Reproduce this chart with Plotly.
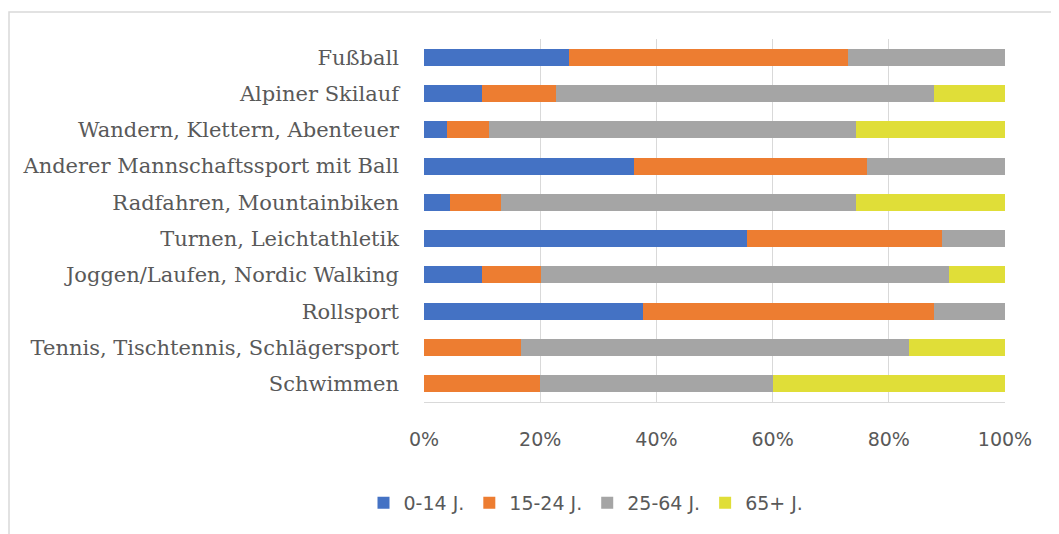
import plotly.graph_objects as go

categories = [
    "Fußball",
    "Alpiner Skilauf",
    "Wandern, Klettern, Abenteuer",
    "Anderer Mannschaftssport mit Ball",
    "Radfahren, Mountainbiken",
    "Turnen, Leichtathletik",
    "Joggen/Laufen, Nordic Walking",
    "Rollsport",
    "Tennis, Tischtennis, Schlägersport",
    "Schwimmen",
]
series_names = ["0-14 J.", "15-24 J.", "25-64 J.", "65+ J."]
age_0_14 = [25.0, 10.0, 3.9, 36.2, 4.5, 55.6, 10.0, 37.7, 0.0, 0.0]
age_15_24 = [47.9, 12.7, 7.3, 40.1, 8.7, 33.5, 10.1, 50.1, 16.7, 20.0]
age_25_64 = [27.1, 65.1, 63.1, 23.7, 61.1, 10.9, 70.2, 12.2, 66.7, 40.0]
age_65_plus = [0.0, 12.2, 25.7, 0.0, 25.7, 0.0, 9.7, 0.0, 16.6, 40.0]
tick_vals = [0, 20, 40, 60, 80, 100]
tick_text = ["0%", "20%", "40%", "60%", "80%", "100%"]

colors = ["#4472C4", "#ED7D31", "#A5A5A5", "#E0DE38"]
series = [age_0_14, age_15_24, age_25_64, age_65_plus]

OFF = 8  # page body margin
W, H = 1059 - OFF, 534 - OFF
pw, ph = 581, 363
L = 424 - OFF
T = 39 - OFF
R = W - L - pw
B = H - T - ph

fig = go.Figure()
for name, vals, c in zip(series_names, series, colors):
    fig.add_trace(go.Bar(
        y=categories, x=vals, name=name, orientation="h",
        marker=dict(color=c, line=dict(width=0)),
    ))

sans = "'DejaVu Sans', sans-serif"
serif = "'DejaVu Serif', serif"

# outer chart border (top and left visible)
fig.add_shape(
    type="rect", xref="paper", yref="paper",
    x0=(1 - L) / pw, x1=(W + 10 - L) / pw,
    y0=(T + ph - (H + 10)) / ph, y1=(T + ph - (12 - OFF)) / ph,
    line=dict(color="#D9D9D9", width=1.5), fillcolor="rgba(0,0,0,0)", layer="below",
)

fig.update_layout(
    width=W, height=H,
    margin=dict(l=L, r=R, t=T, b=B),
    barmode="stack",
    bargap=0.53,
    plot_bgcolor="white",
    paper_bgcolor="white",
    showlegend=True,
    legend=dict(
        orientation="h",
        x=(586 - OFF - L) / pw, xanchor="center",
        y=(T + ph - (503 - OFF)) / ph, yanchor="middle",
        font=dict(family=sans, size=19, color="#595959"),
        itemwidth=30,
        traceorder="normal",
    ),
    xaxis=dict(
        range=[0, 100],
        tickvals=tick_vals, ticktext=tick_text,
        showgrid=True, gridcolor="#D9D9D9", gridwidth=1,
        zeroline=False,
        showline=True, linecolor="#D9D9D9", linewidth=1,
        tickfont=dict(family=sans, size=19, color="#595959"),
        ticklabelstandoff=20,
        ticks="",
    ),
    yaxis=dict(
        autorange="reversed",
        showgrid=False,
        showline=False,
        tickfont=dict(family=serif, size=21, color="#595959"),
        ticklabelstandoff=24,
        ticks="",
    ),
)

fig.write_html("out.html")
